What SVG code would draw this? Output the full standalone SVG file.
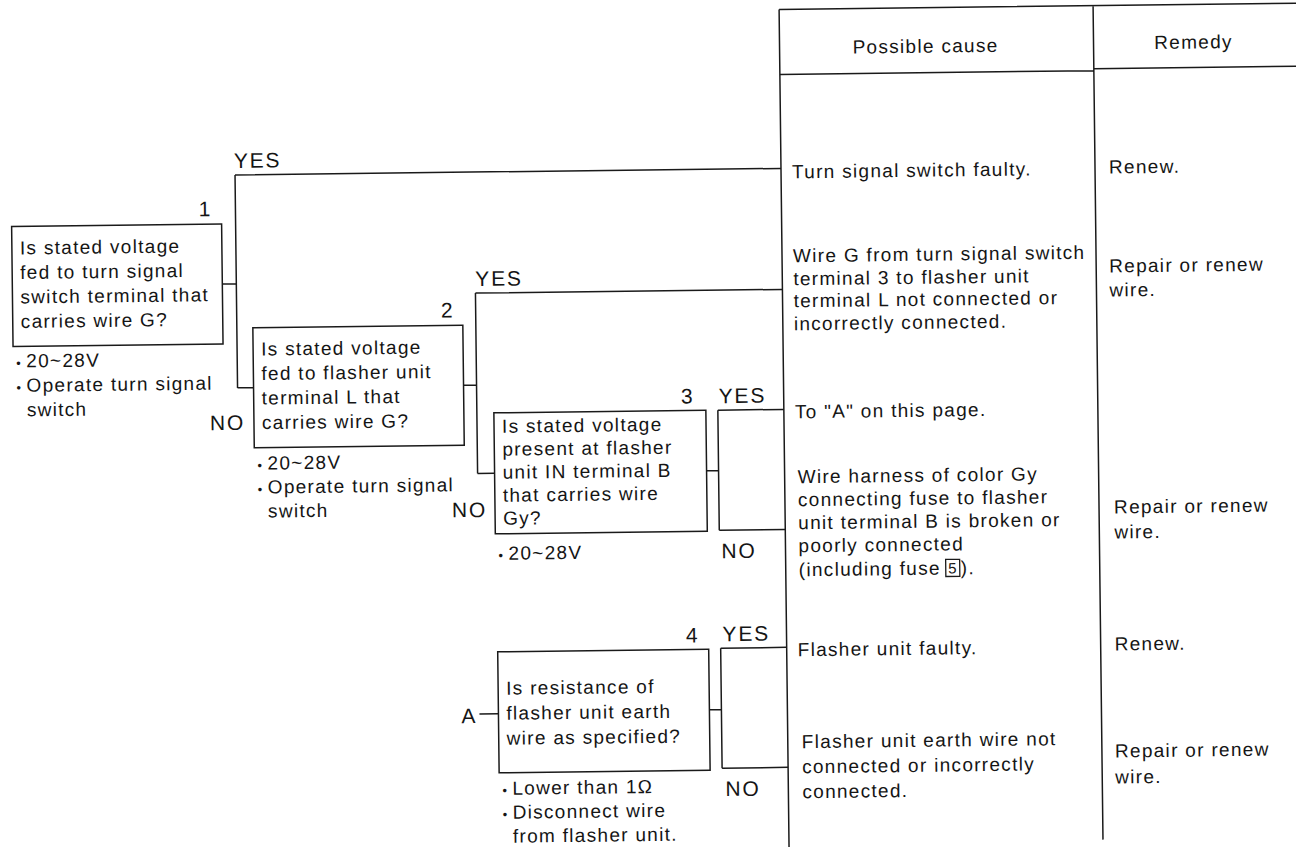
<svg xmlns="http://www.w3.org/2000/svg" width="1296" height="847" viewBox="0 0 1296 847">
  <style>
    text { font-family: "Liberation Sans", Arial, sans-serif; fill: #151515; }
    .t { font-size: 19px; letter-spacing: 1.3px; }
    .lbl { font-size: 21px; letter-spacing: 1.8px; }
    .num { font-size: 21px; text-anchor: end; }
    .bul { font-size: 13px; }
    .box { fill: #fff; stroke: #1a1a1a; stroke-width: 1.5; }
    .ln { fill: none; stroke: #1a1a1a; stroke-width: 1.5; }
  </style>
  <rect width="1296" height="847" fill="#fff"/>
  <!-- the printed page sits very slightly askew -->
  <g transform="rotate(-0.68 648 423)">

    <!-- cause / remedy table -->
    <g id="table">
      <path class="ln" d="M784 11 H1310 M784 11 V860 M1098 11 V845 M784 76 H1098 M1098 74 H1310"/>
      <text class="t" x="930" y="56" text-anchor="middle">Possible cause</text>
      <text class="t" x="1198" y="55" text-anchor="middle">Remedy</text>

      <text class="t" x="795" y="180">Turn signal switch faulty.</text>
      <text class="t" x="1112" y="179">Renew.</text>

      <text class="t" x="795" y="264">Wire G from turn signal switch</text>
      <text class="t" x="795" y="287">terminal 3 to flasher unit</text>
      <text class="t" x="795" y="309">terminal L not connected or</text>
      <text class="t" x="795" y="332">incorrectly connected.</text>
      <text class="t" x="1111" y="278">Repair or renew</text>
      <text class="t" x="1111" y="302">wire.</text>

      <text class="t" x="795" y="420">To "A" on this page.</text>

      <text class="t" x="797" y="485">Wire harness of color Gy</text>
      <text class="t" x="797" y="508">connecting fuse to flasher</text>
      <text class="t" x="797" y="531">unit terminal B is broken or</text>
      <text class="t" x="797" y="554">poorly connected</text>
      <text class="t" x="797" y="578">(including fuse</text>
      <rect x="944" y="563" width="14" height="17" fill="none" stroke="#1a1a1a" stroke-width="1.3"/>
      <text x="946.5" y="577" font-size="15">5</text>
      <text class="t" x="959" y="578">).</text>
      <text class="t" x="1113" y="519">Repair or renew</text>
      <text class="t" x="1113" y="544">wire.</text>

      <text class="t" x="795" y="658">Flasher unit faulty.</text>
      <text class="t" x="1112" y="656">Renew.</text>

      <text class="t" x="798" y="750">Flasher unit earth wire not</text>
      <text class="t" x="798" y="775">connected or incorrectly</text>
      <text class="t" x="798" y="800">connected.</text>
      <text class="t" x="1111" y="763">Repair or renew</text>
      <text class="t" x="1111" y="789">wire.</text>
    </g>

    <!-- connectors between the checks and the causes -->
    <g id="connectors">
      <path class="ln" d="M224 279 H238 M238 170 V383 M238 170 H784 M238 383 H254"/>
      <path class="ln" d="M464 383 H477 M477 291 V471.5 M477 291 H784 M477 471.5 H494"/>
      <path class="ln" d="M706 471.5 H718 M718 411 V531 M718 411 H784 M718 531 H784"/>
      <path class="ln" d="M476 712 H495"/>
      <path class="ln" d="M706 710.5 H718 M718 649 V769 M718 649 H784 M718 769 H784"/>
      <text class="lbl" x="237" y="163">YES</text>
      <text class="lbl" x="245" y="425" text-anchor="end">NO</text>
      <text class="lbl" x="477" y="284">YES</text>
      <text class="lbl" x="486" y="515" text-anchor="end">NO</text>
      <text class="lbl" x="719" y="404">YES</text>
      <text class="lbl" x="720" y="559">NO</text>
      <text class="lbl" x="720" y="642">YES</text>
      <text class="lbl" x="721" y="797">NO</text>
      <text class="lbl" x="458" y="721">A</text>
    </g>

    <!-- check 1 -->
    <g id="check1">
      <rect class="box" x="14" y="219" width="210" height="120"/>
      <text class="num" x="213" y="211">1</text>
      <text class="t" x="22" y="247">Is stated voltage</text>
      <text class="t" x="22" y="271.5">fed to turn signal</text>
      <text class="t" x="22" y="296">switch terminal that</text>
      <text class="t" x="22" y="320.5">carries wire G?</text>
      <text class="t" x="27" y="360"><tspan class="bul" x="17">•</tspan><tspan x="27">20~28V</tspan></text>
      <text class="t" x="27" y="384.5"><tspan class="bul" x="17">•</tspan><tspan x="27">Operate turn signal</tspan></text>
      <text class="t" x="27" y="409">switch</text>
    </g>

    <!-- check 2 -->
    <g id="check2">
      <rect class="box" x="254" y="323" width="210" height="120"/>
      <text class="num" x="454" y="315">2</text>
      <text class="t" x="262" y="351">Is stated voltage</text>
      <text class="t" x="262" y="375.5">fed to flasher unit</text>
      <text class="t" x="262" y="400">terminal L that</text>
      <text class="t" x="262" y="424.5">carries wire G?</text>
      <text class="t" x="267" y="465"><tspan class="bul" x="257">•</tspan><tspan x="267">20~28V</tspan></text>
      <text class="t" x="267" y="489"><tspan class="bul" x="257">•</tspan><tspan x="267">Operate turn signal</tspan></text>
      <text class="t" x="267" y="513">switch</text>
    </g>

    <!-- check 3 -->
    <g id="check3">
      <rect class="box" x="494" y="411" width="212" height="121"/>
      <text class="num" x="693" y="404">3</text>
      <text class="t" x="502" y="431">Is stated voltage</text>
      <text class="t" x="502" y="454">present at flasher</text>
      <text class="t" x="502" y="477">unit IN terminal B</text>
      <text class="t" x="502" y="500">that carries wire</text>
      <text class="t" x="502" y="523">Gy?</text>
      <text class="t" x="507" y="558"><tspan class="bul" x="497">•</tspan><tspan x="507">20~28V</tspan></text>
    </g>

    <!-- check 4 -->
    <g id="check4">
      <rect class="box" x="495" y="650" width="211" height="121"/>
      <text class="num" x="695" y="643">4</text>
      <text class="t" x="503" y="693">Is resistance of</text>
      <text class="t" x="503" y="718">flasher unit earth</text>
      <text class="t" x="503" y="743">wire as specified?</text>
      <text class="t" x="508" y="793"><tspan class="bul" x="498">•</tspan><tspan x="508">Lower than 1Ω</tspan></text>
      <text class="t" x="508" y="817"><tspan class="bul" x="498">•</tspan><tspan x="508">Disconnect wire</tspan></text>
      <text class="t" x="508" y="841">from flasher unit.</text>
    </g>
  </g>
</svg>
